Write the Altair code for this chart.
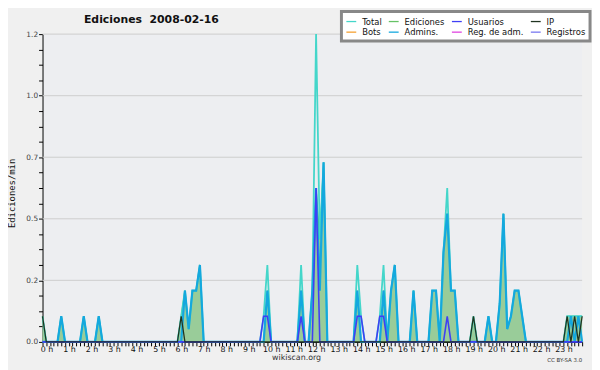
import altair as alt
import pandas as pd

# ---- data (10-minute bins, index 0..144 = 0h..24h; unlisted bins are 0) ----
N_BINS = 145
SERIES = ["Total", "Ediciones", "Usuarios", "IP", "Bots", "Admins.", "Reg. de adm.", "Registros"]
COLORS = ["#44D6CA", "#66C266", "#3F3FF5", "#203420", "#F5A030", "#14A8DE", "#E044E0", "#7777F0"]
TITLE = "Ediciones\u00a0\u00a02008-02-16"
LICENSE = "CC BY-SA 3.0"

EDICIONES = {0: 0.1, 5: 0.1, 11: 0.1, 15: 0.1,
             37: 0.1, 38: 0.2, 39: 0.05, 40: 0.2, 41: 0.2, 42: 0.3,
             60: 0.2, 69: 0.2,
             72: 0.2, 73: 0.6, 74: 0.4, 75: 0.7,
             84: 0.2, 91: 0.2, 93: 0.2, 94: 0.3, 99: 0.2,
             104: 0.2, 105: 0.2, 107: 0.35, 108: 0.5, 109: 0.2, 110: 0.2,
             115: 0.1, 119: 0.1,
             122: 0.15, 123: 0.5, 124: 0.05, 125: 0.1, 126: 0.2, 127: 0.2, 128: 0.1,
             140: 0.1, 141: 0.1, 142: 0.1, 143: 0.1, 144: 0.1}
TOTAL = {0: 0.1, 5: 0.1, 11: 0.1, 15: 0.1,
         37: 0.1, 38: 0.2, 39: 0.05, 40: 0.2, 41: 0.2, 42: 0.3,
         59: 0.1, 60: 0.3, 69: 0.3,
         72: 0.2, 73: 1.2, 74: 0.4, 75: 0.7,
         84: 0.3, 85: 0.1, 90: 0.1, 91: 0.3, 93: 0.2, 94: 0.3, 99: 0.2,
         104: 0.2, 105: 0.2, 107: 0.35, 108: 0.6, 109: 0.2, 110: 0.2,
         115: 0.1, 119: 0.1,
         122: 0.15, 123: 0.5, 124: 0.05, 125: 0.1, 126: 0.2, 127: 0.2, 128: 0.1,
         140: 0.1, 141: 0.1, 142: 0.1, 143: 0.1, 144: 0.1}
ADMINS = {5: 0.1, 11: 0.1, 15: 0.1,
          38: 0.2, 39: 0.05, 40: 0.2, 41: 0.2, 42: 0.3,
          60: 0.2, 69: 0.2,
          72: 0.2, 73: 0.6, 74: 0.2, 75: 0.7,
          84: 0.2, 91: 0.2, 93: 0.2, 94: 0.3, 99: 0.2,
          104: 0.2, 105: 0.2, 107: 0.35, 108: 0.5, 109: 0.2, 110: 0.2,
          119: 0.1,
          122: 0.15, 123: 0.5, 124: 0.05, 125: 0.1, 126: 0.2, 127: 0.2, 128: 0.1,
          141: 0.1, 143: 0.1}
USUARIOS = {59: 0.1, 60: 0.1, 69: 0.1, 73: 0.6, 84: 0.1, 85: 0.1, 90: 0.1, 91: 0.1, 108: 0.1}
IP = {0: 0.1, 37: 0.1, 115: 0.1, 140: 0.1, 142: 0.1, 144: 0.1}

Y_GRID = [0.24, 0.48, 0.72, 0.96, 1.2]
Y_TICKS = [round(i * 0.06, 2) for i in range(21)]
X_TICKS = [b / 6 for b in range(N_BINS)]


def frame(name, values):
    return pd.DataFrame({
        "h": [b / 6 for b in range(N_BINS)],
        "v": [values.get(b, 0.0) for b in range(N_BINS)],
        "serie": name,
    })


color_scale = alt.Scale(domain=SERIES, range=COLORS)
legend = alt.Legend(title=None, orient="none", legendX=303, legendY=-23, columns=4,
                    direction="horizontal",
                    symbolType="stroke", symbolSize=100, symbolStrokeWidth=1.3,
                    labelFont="DejaVu Sans", labelFontSize=8.5, labelColor="#111",
                    labelOffset=5, columnPadding=4, rowPadding=0, padding=4,
                    fillColor="white", strokeColor="#888888")

X = alt.X("h:Q", scale=alt.Scale(domain=[0, 24], nice=False, zero=False),
          axis=alt.Axis(values=X_TICKS, grid=False, tickSize=4, labelPadding=0,
                        labelExpr="(abs(datum.value - round(datum.value)) < 0.001 && datum.value < 23.9) ? round(datum.value) + ' h' : ''",
                        labelOverlap=False, labelFlush=False, labelOffset=4,
                        labelFont="DejaVu Sans", labelFontSize=8, labelColor="#111",
                        title="wikiscan.org", titleFont="DejaVu Sans", titleFontSize=8,
                        titleFontWeight="normal", titleX=257, titleY=16,
                        titleBaseline="middle", titleAlign="center", titleColor="#333"))
Y_AX = alt.Axis(values=Y_TICKS, grid=False, tickSize=4, labelPadding=1,
                labelExpr="abs(datum.value / 0.24 - round(datum.value / 0.24)) < 0.01 ? format(datum.value, '.1f') : ''",
                labelOverlap=False, labelFlush=False,
                labelFont="DejaVu Sans", labelFontSize=7.5, labelColor="#444",
                title="Ediciones/min", titleFont="DejaVu Sans Mono", titleFontSize=9,
                titleFontWeight="normal", titleX=-31, titleY=161, titleAngle=-90,
                titleAlign="center", titleBaseline="middle", titleColor="#111")
y_scale = alt.Scale(domain=[0, 1.2], nice=False)

grid = alt.Chart(pd.DataFrame({"v": Y_GRID})).mark_rule(color="#CDCDCD", strokeWidth=1).encode(
    y=alt.Y("v:Q", scale=y_scale, axis=Y_AX))

area = alt.Chart(frame("Ediciones", EDICIONES)).mark_area(color="#99CC99", opacity=1).encode(
    x=X, y=alt.Y("v:Q", scale=y_scale, axis=Y_AX))


def line(name, values, width):
    return alt.Chart(frame(name, values)).mark_line(strokeWidth=width).encode(
        x=X, y=alt.Y("v:Q", scale=y_scale, axis=Y_AX),
        color=alt.Color("serie:N", scale=color_scale, legend=legend))


layers = [grid, area,
          line("Ediciones", EDICIONES, 1.2),
          line("Total", TOTAL, 1.8),
          line("Admins.", ADMINS, 2.2),
          line("Usuarios", USUARIOS, 1.6),
          line("IP", IP, 1.3)]

title = alt.Chart(pd.DataFrame({"t": [TITLE]})).mark_text(
    font="DejaVu Sans", fontSize=11, fontWeight="bold", align="left",
    baseline="alphabetic", color="#111").encode(
    text="t:N", x=alt.value(42), y=alt.value(-11))
cc = alt.Chart(pd.DataFrame({"t": [LICENSE]})).mark_text(
    font="DejaVu Sans", fontSize=5.5, align="right", baseline="middle", color="#333").encode(
    text="t:N", x=alt.value(547), y=alt.value(330))
layers += [title, cc]

chart = alt.layer(*layers).properties(
    width=547, height=312,
    padding={"left": 35, "top": 24, "right": 10, "bottom": 26},
    autosize=alt.AutoSizeParams(type="none"),
    background="#F0F0F0",
).configure_view(fill="#EDEEF1", stroke=None).configure_axis(
    domainColor="black", tickColor="black", domainWidth=1
).configure_legend(strokeWidth=3)

chart.save("out.html", embed_options={"renderer": "svg", "actions": False})
